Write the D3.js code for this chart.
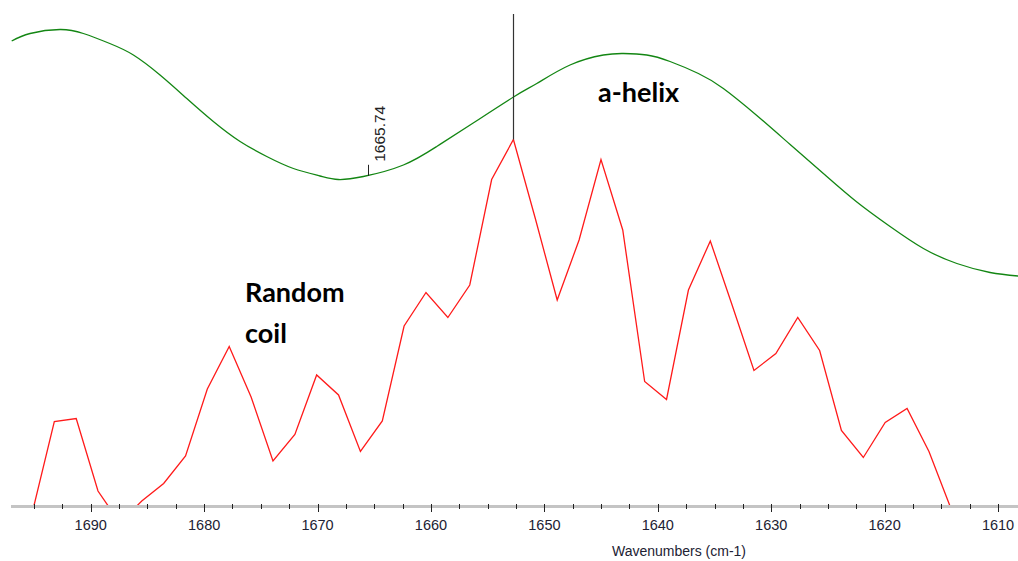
<!DOCTYPE html>
<html>
<head>
<meta charset="utf-8">
<script src="https://cdn.jsdelivr.net/npm/d3@7"></script>
<style>
  html, body { margin: 0; padding: 0; background: #fff; }
  svg { display: block; }
</style>
</head>
<body>
<svg id="chart" width="1018" height="561"></svg>
<script>
// Amide I region: measured spectrum (red) and fitted envelope (green)
const spectrumWavenumbers = [
  1695.14, 1693.21, 1691.28, 1689.36, 1687.43, 1685.50, 1683.57, 1681.64,
  1679.72, 1677.79, 1675.86, 1673.93, 1672.00, 1670.08, 1668.15, 1666.22,
  1664.29, 1662.37, 1660.44, 1658.51, 1656.58, 1654.65, 1652.73, 1650.80,
  1648.87, 1646.94, 1645.01, 1643.09, 1641.16, 1639.23, 1637.30, 1635.37,
  1633.45, 1631.52, 1629.59, 1627.66, 1625.73, 1623.81, 1621.88, 1619.95,
  1618.02, 1616.09, 1614.17
];
const spectrumValues = [
  -1.2, 16.9, 17.5, 3.0, -3.4, 1.0, 4.5, 10.0,
  23.4, 31.9, 21.8, 9.0, 14.3, 26.2, 22.2, 10.9,
  17.0, 36.0, 42.7, 37.7, 44.2, 65.3, 73.3, 57.5,
  41.2, 53.2, 69.3, 55.2, 24.9, 21.3, 43.2, 53.0,
  40.2, 27.1, 30.5, 37.7, 31.1, 15.1, 9.7, 16.7,
  19.5, 10.9, -0.4
];

const envelopeWavenumbers = [
  1696.97, 1695.35, 1692.71, 1690.65, 1688.32, 1686.24, 1683.89, 1681.53,
  1679.19, 1676.83, 1674.48, 1672.13, 1669.78, 1668.17, 1665.96, 1662.43,
  1659.49, 1656.55, 1652.65, 1650.67, 1647.74, 1644.80, 1643.03, 1640.97,
  1638.92, 1636.42, 1634.22, 1631.27, 1628.33, 1625.40, 1622.45, 1619.52,
  1616.58, 1613.63, 1610.70, 1608.23
];
const envelopeValues = [
  93.0, 94.5, 95.3, 94.5, 92.5, 90.2, 86.2, 81.5,
  76.9, 72.9, 69.9, 67.5, 66.0, 65.3, 65.9, 68.2,
  71.9, 76.2, 81.9, 84.5, 88.2, 90.2, 90.5, 90.2,
  88.9, 86.5, 83.5, 78.1, 72.3, 66.5, 60.8, 55.9,
  51.5, 48.5, 46.7, 46.0
];

const majorTicks = [1690, 1680, 1670, 1660, 1650, 1640, 1630, 1620, 1610];
const minorTicks = d3.range(1695, 1608, -2.5).filter(v => v % 10 !== 0);

const peakWavenumber = 1652.73;
const peakValue = 73.3;
const markerWavenumber = 1665.74;
const markerLabel = "1665.74";
const axisTitle = "Wavenumbers (cm-1)";

const svg = d3.select("#chart");

const x = d3.scaleLinear().domain([1697.03, 1608.24]).range([11, 1018]);
const y = d3.scaleLinear().domain([0, 100]).range([506, 6]);

svg.append("defs").append("clipPath").attr("id", "plotClip")
  .append("rect").attr("x", 0).attr("y", 0).attr("width", 1018).attr("height", 505);

const plot = svg.append("g").attr("clip-path", "url(#plotClip)");

// fitted envelope
const envelope = envelopeWavenumbers.map((w, i) => [w, envelopeValues[i]]);
plot.append("path")
  .datum(envelope)
  .attr("fill", "none")
  .attr("stroke", "#138613")
  .attr("stroke-width", 1.3)
  .attr("d", d3.line().x(d => x(d[0])).y(d => y(d[1])).curve(d3.curveNatural));

// measured spectrum
const spectrum = spectrumWavenumbers.map((w, i) => [w, spectrumValues[i]]);
plot.append("path")
  .datum(spectrum)
  .attr("fill", "none")
  .attr("stroke", "#ff1a1a")
  .attr("stroke-width", 1.3)
  .attr("stroke-linejoin", "miter")
  .attr("d", d3.line().x(d => x(d[0])).y(d => y(d[1])));

// peak marker line
svg.append("line")
  .attr("x1", Math.round(x(peakWavenumber)) + 0.5)
  .attr("x2", Math.round(x(peakWavenumber)) + 0.5)
  .attr("y1", 14)
  .attr("y2", y(peakValue))
  .attr("stroke", "#333")
  .attr("stroke-width", 1.2);

// labelled point on the envelope
const envAt = d3.scaleLinear()
  .domain(envelopeWavenumbers).range(envelopeValues);
const mx = Math.round(x(markerWavenumber) + 2) + 0.5;
const my = y(envAt(markerWavenumber));
svg.append("line")
  .attr("x1", mx).attr("x2", mx)
  .attr("y1", my).attr("y2", my - 11)
  .attr("stroke", "#222").attr("stroke-width", 1);
svg.append("text")
  .attr("transform", `translate(${mx + 16},${my - 14}) rotate(-90)`)
  .attr("font-family", "'Liberation Sans', Arial, sans-serif")
  .attr("font-size", 15.5)
  .attr("fill", "#222")
  .text(markerLabel);

// x axis
const axisG = svg.append("g");
axisG.append("line")
  .attr("x1", 11).attr("x2", 1018)
  .attr("y1", 506.5).attr("y2", 506.5)
  .attr("stroke", "#c4c4c4").attr("stroke-width", 3);

axisG.selectAll("line.minor")
  .data(minorTicks)
  .join("line")
  .attr("class", "minor")
  .attr("x1", d => Math.round(x(d)) + 0.5)
  .attr("x2", d => Math.round(x(d)) + 0.5)
  .attr("y1", 504).attr("y2", 509)
  .attr("stroke", "#222").attr("stroke-width", 1);

axisG.selectAll("line.major")
  .data(majorTicks)
  .join("line")
  .attr("class", "major")
  .attr("x1", d => Math.round(x(d)) + 0.5)
  .attr("x2", d => Math.round(x(d)) + 0.5)
  .attr("y1", 504).attr("y2", 512)
  .attr("stroke", "#222").attr("stroke-width", 1);

axisG.selectAll("text.tick")
  .data(majorTicks)
  .join("text")
  .attr("class", "tick")
  .attr("x", d => x(d))
  .attr("y", 530)
  .attr("text-anchor", "middle")
  .attr("font-family", "'Liberation Sans', Arial, sans-serif")
  .attr("font-size", 14.5)
  .attr("fill", "#222233")
  .text(d => d);

svg.append("text")
  .attr("x", 679)
  .attr("y", 556)
  .attr("text-anchor", "middle")
  .attr("font-family", "'Liberation Sans', Arial, sans-serif")
  .attr("font-size", 14)
  .attr("fill", "#222233")
  .text(axisTitle);

// band assignments
const noteFont = "Lato, 'Open Sans', sans-serif";
svg.append("text")
  .attr("x", 245).attr("y", 302)
  .attr("font-family", noteFont).attr("font-weight", "bold")
  .attr("font-size", 27).attr("fill", "#000")
  .text("Random");
svg.append("text")
  .attr("x", 245).attr("y", 343)
  .attr("font-family", noteFont).attr("font-weight", "bold")
  .attr("font-size", 27).attr("fill", "#000")
  .text("coil");
svg.append("text")
  .attr("x", 598).attr("y", 102)
  .attr("font-family", noteFont).attr("font-weight", "bold")
  .attr("font-size", 27).attr("fill", "#000")
  .text("a-helix");
</script>
</body>
</html>
